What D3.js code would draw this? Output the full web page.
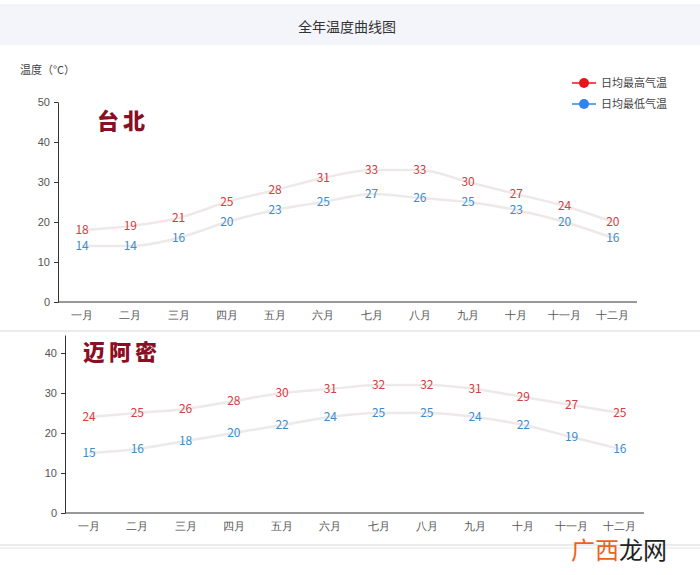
<!DOCTYPE html>
<html>
<head>
<meta charset="utf-8">
<script src="https://cdn.jsdelivr.net/npm/d3@7"></script>
<style>
  body { margin: 0; background: #fff; }
  svg { display: block; font-family: "Noto Sans CJK SC", "Noto Sans", sans-serif; }
  .axis path, .axis line { stroke: #333; }
  .axis text { fill: #555; font-size: 11px; }
</style>
</head>
<body>
<div id="chart"></div>
<script>
const months = ["一月", "二月", "三月", "四月", "五月", "六月", "七月", "八月", "九月", "十月", "十一月", "十二月"];
const taipeiHigh = [18, 19, 21, 25, 28, 31, 33, 33, 30, 27, 24, 20];
const taipeiLow = [14, 14, 16, 20, 23, 25, 27, 26, 25, 23, 20, 16];
const miamiHigh = [24, 25, 26, 28, 30, 31, 32, 32, 31, 29, 27, 25];
const miamiLow = [15, 16, 18, 20, 22, 24, 25, 25, 24, 22, 19, 16];
const seriesNames = ["日均最高气温", "日均最低气温"];
const seriesColors = ["#e8141c", "#2f86e8"];
const labelColors = ["#d2403f", "#3d8ccc"];

const w = 700, h = 575;
const svg = d3.select("#chart").append("svg").attr("width", w).attr("height", h);

// title bar
svg.append("rect").attr("x", 0).attr("y", 5).attr("width", w).attr("height", 40).attr("fill", "#f4f5fa");
svg.append("line").attr("x1", 0).attr("x2", w).attr("y1", 5).attr("y2", 5).attr("stroke", "#eceef3");
svg.append("text").text("全年温度曲线图")
    .attr("x", 347).attr("y", 32).attr("text-anchor", "middle")
    .style("font-size", "14px").style("fill", "#333");

svg.append("text").text("温度（°C）")
    .attr("x", 20).attr("y", 74).style("font-size", "11px").style("fill", "#444");

// legend
seriesNames.forEach((name, i) => {
    const g = svg.append("g").attr("transform", "translate(572," + (83 + i * 21) + ")");
    g.append("line").attr("x1", 0).attr("x2", 24).attr("stroke", seriesColors[i]).attr("stroke-width", 1.5);
    g.append("circle").attr("cx", 12).attr("r", 5).attr("fill", seriesColors[i]);
    g.append("text").text(name).attr("x", 29).attr("y", 4)
        .style("font-size", "11px").style("fill", "#444");
});

// panel separators
svg.append("line").attr("x1", 0).attr("x2", w).attr("y1", 331).attr("y2", 331).attr("stroke", "#e4e4e4").attr("stroke-width", 1.5);
svg.append("line").attr("x1", 0).attr("x2", w).attr("y1", 545).attr("y2", 545).attr("stroke", "#d8d8d8");
svg.append("line").attr("x1", 0).attr("x2", w).attr("y1", 548).attr("y2", 548).attr("stroke", "#e4e4e4");

function drawPanel(opt) {
    const x = d3.scaleBand().domain(months).range([opt.left, opt.right]);
    const y = d3.scaleLinear().domain([0, opt.max]).range([opt.bottom, opt.top]);

    svg.append("g").attr("class", "axis")
        .attr("transform", "translate(0," + opt.bottom + ")")
        .call(d3.axisBottom(x).tickSize(0).tickPadding(9))
        .call(g => g.select(".domain").attr("d", "M" + opt.left + ",0H" + opt.right));

    svg.append("g").attr("class", "axis")
        .attr("transform", "translate(" + opt.left + ",0)")
        .call(d3.axisLeft(y).tickValues(opt.ticks).tickSize(4).tickSizeOuter(0).tickPadding(4));

    const line = d3.line()
        .x((d, i) => x(months[i]) + x.bandwidth() / 2)
        .y(d => y(d))
        .curve(d3.curveMonotoneX);

    [opt.high, opt.low].forEach((vals, s) => {
        svg.append("path").datum(vals)
            .attr("d", line)
            .attr("fill", "none")
            .attr("stroke", "#eee9e9")
            .attr("stroke-width", 2.5);
        svg.append("g").selectAll("text").data(vals).enter().append("text")
            .attr("x", (d, i) => x(months[i]) + x.bandwidth() / 2)
            .attr("y", d => y(d) + 4)
            .attr("text-anchor", "middle")
            .style("font-size", "12px")
            .style("fill", labelColors[s])
            .text(d => d);
    });

    svg.append("text").text(opt.city)
        .attr("x", opt.cityX).attr("y", opt.cityY)
        .style("font-size", "22px").style("font-weight", "900")
        .style("letter-spacing", "4px")
        .style("fill", "#8a0f24");
}

drawPanel({ left: 58, right: 637, top: 102, bottom: 302, max: 50, ticks: [0, 10, 20, 30, 40, 50],
    high: taipeiHigh, low: taipeiLow, city: "台北", cityX: 97, cityY: 129 });
drawPanel({ left: 65, right: 644, top: 335, bottom: 513, max: 44.5, ticks: [0, 10, 20, 30, 40],
    high: miamiHigh, low: miamiLow, city: "迈阿密", cityX: 83, cityY: 360 });

// watermark
const wm = svg.append("text").attr("x", 571).attr("y", 559).style("font-size", "24px");
wm.append("tspan").text("广西").style("fill", "#e8651e");
wm.append("tspan").text("龙网").style("fill", "#222");
</script>
</body>
</html>
